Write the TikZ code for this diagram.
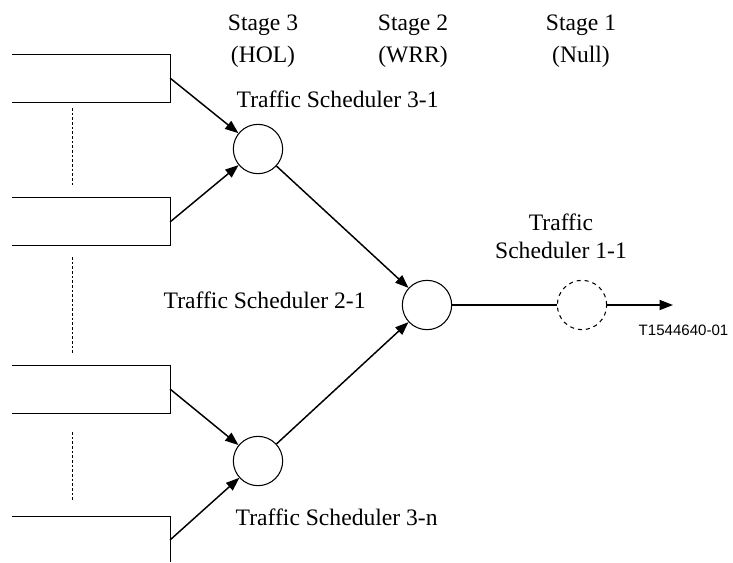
\documentclass[tikz,border=0pt]{standalone}
\usepackage{fontspec}
\setmainfont{Liberation Serif}
\newfontfamily\labelfont{Liberation Sans}
\usetikzlibrary{arrows.meta,positioning}

\begin{document}
\begin{tikzpicture}[x=0.75pt,y=-0.75pt,line width=1.1pt,>={Triangle[length=10pt,width=7.5pt]},
sched node/.style={circle,draw,line width=0.8pt,minimum size=37pt,inner sep=0pt},
queue line/.style={line width=0.7pt},
gap line/.style={dashed,dash pattern=on 2pt off 1.5pt,line width=0.6pt},
every node/.style={font=\fontsize{17.7}{24}\selectfont,align=center,inner sep=0pt}]
\useasboundingbox (0,0) rectangle (733,562);
\begin{scope}
% queues
\draw[queue line] (12,54) -- (170,54) -- (170,102) -- (12,102);
\draw[queue line] (12,197) -- (170,197) -- (170,245) -- (12,245);
\draw[queue line] (12,365) -- (170,365) -- (170,413) -- (12,413);
\draw[queue line] (12,516) -- (170,516) -- (170,562);
\draw[gap line] (72,108) -- (72,187);
\draw[gap line] (72,257) -- (72,353);
\draw[gap line] (72,432) -- (72,502);
\coordinate (q1) at (170,78);
\coordinate (q2) at (170,222);
\coordinate (q3) at (170,389);
\coordinate (q4) at (170,540);
\end{scope}
\begin{scope}
\node[sched node] (s31) at (258,149) {};
\node[sched node] (s3n) at (258,461) {};
\node[sched node] (s21) at (427,305) {};
\node[sched node,dashed] (s11) at (582,305) {};
\coordinate (out) at (673,305);
\end{scope}
\begin{scope}
\node[anchor=base] (st3) at (263,62) {Stage 3\\(HOL)};
\node[anchor=base] (st2) at (413,62) {Stage 2\\(WRR)};
\node[anchor=base] (st1) at (581,62) {Stage 1\\(Null)};
\node[anchor=base west] (l31) at (236,107) {Traffic Scheduler 3-1};
\node[anchor=base west] (l21) at (163,308) {Traffic Scheduler 2-1};
\node[anchor=base,font=\fontsize{17.7}{21}\selectfont] (l11) at (561,258) {Traffic\\Scheduler 1-1};
\node[anchor=base west] (l3n) at (235,525) {Traffic Scheduler 3-n};
\node[anchor=base west,font=\labelfont\fontsize{11.3}{13}\selectfont] (ref) at (638,335) {T1544640-01};
\end{scope}
\begin{scope}
\draw[->] (q1) -- (s31);
\draw[->] (q2) -- (s31);
\draw[->] (q3) -- (s3n);
\draw[->] (q4) -- (s3n);
\draw[->] (s31) -- (s21);
\draw[->] (s3n) -- (s21);
\draw (s21) -- (s11);
\draw[->] (s11) -- (out);
\end{scope}
\end{tikzpicture}
\end{document}
